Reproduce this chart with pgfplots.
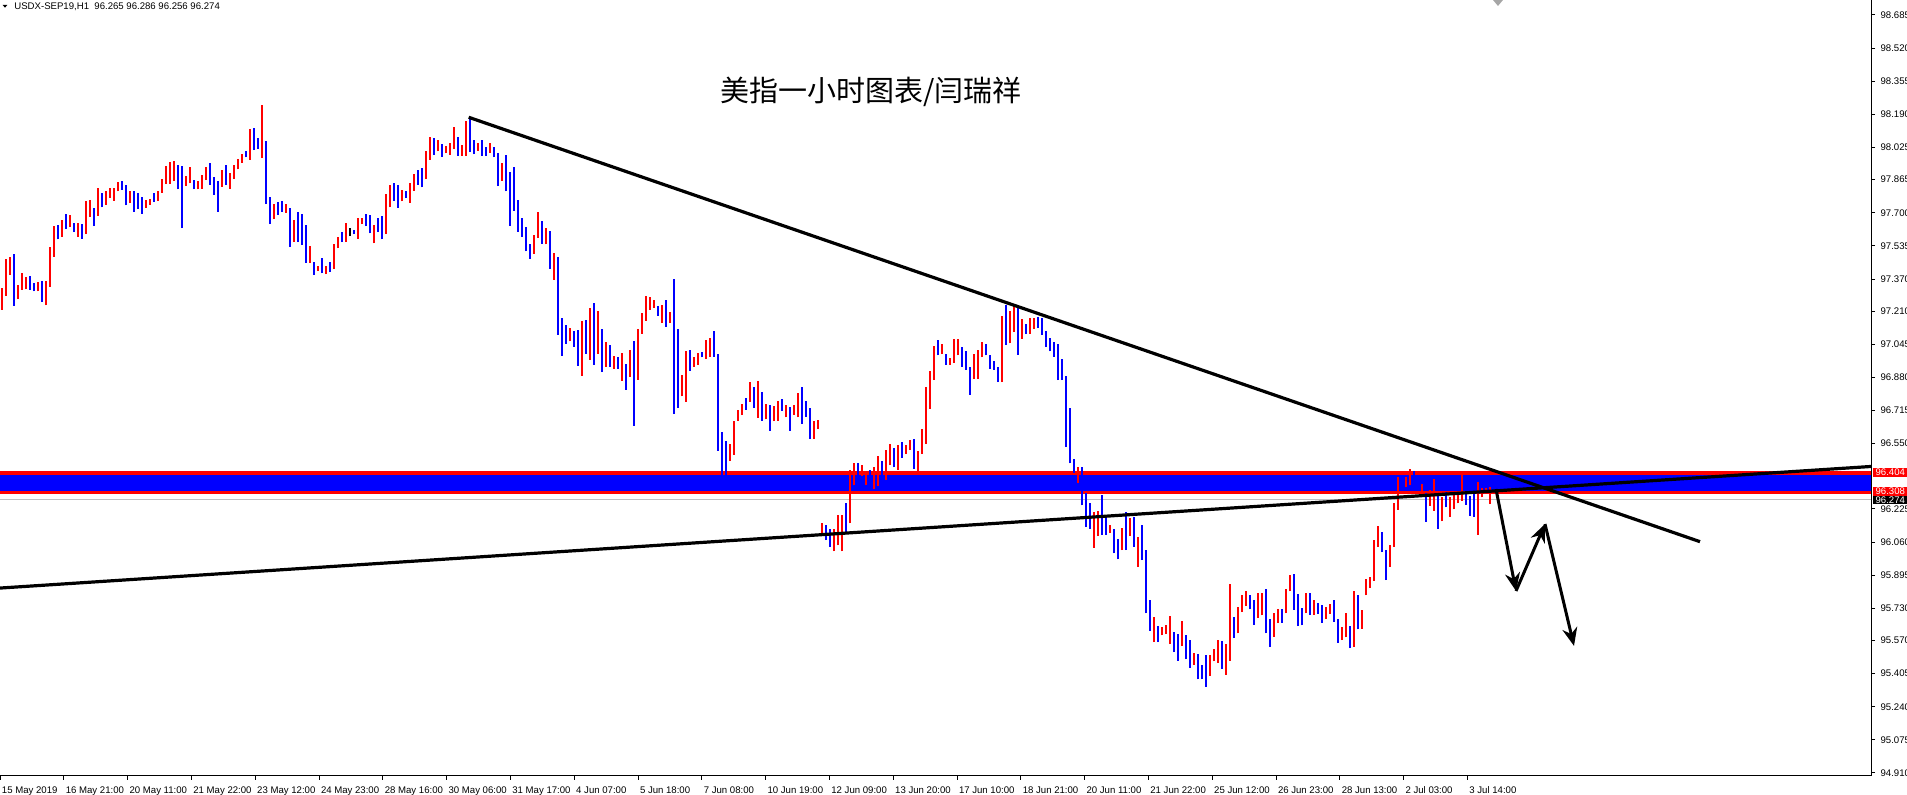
\documentclass[border=0pt]{standalone}
\usepackage{pgfplots}
\usepackage{pgfplotstable}
\pgfplotsset{compat=1.18}
\usetikzlibrary{arrows.meta}
\usepackage{fontspec}
\setmainfont{Liberation Sans}
\newfontfamily\cjk{Noto Sans CJK SC}
\definecolor{mtgray}{RGB}{192,192,192}
\newcommand\mtfont{\fontsize{4.8}{5.2}\selectfont}

% one high-low bar per row, coloured by column c (1 up, 2 down, 3 doji)
\pgfplotsset{
  hl bar/.style 2 args={#1, line width=1pt, mark=none, forget plot, -,
    restrict expr to domain={\thisrow{c}}{#2:#2},
    quiver={u=0, v=\thisrow{hi}-\thisrow{lo}}},
}

\begin{document}
% hourly USDX bars, two hours merged per bar: x (px), low, high, colour code
\pgfplotstableread[row sep=\\]{
x lo hi c\\
2 97.216 97.325 1\\ 6 97.286 97.472 1\\ 10 97.390 97.482 1\\ 14 97.236 97.495 2\\ 18 97.272 97.342 1\\ 22 97.316 97.402 1\\ 26 97.319 97.382 1\\ 30 97.316 97.385 2\\
34 97.309 97.352 2\\ 38 97.309 97.355 1\\ 42 97.256 97.359 2\\ 46 97.239 97.362 1\\ 50 97.332 97.531 1\\ 54 97.482 97.634 1\\ 58 97.568 97.641 2\\ 62 97.581 97.664 1\\
66 97.621 97.694 2\\ 70 97.628 97.687 1\\ 74 97.604 97.651 2\\ 78 97.581 97.651 1\\ 82 97.571 97.644 2\\ 86 97.594 97.760 1\\ 90 97.681 97.764 1\\ 94 97.634 97.724 2\\
98 97.684 97.823 1\\ 102 97.727 97.800 2\\ 106 97.740 97.810 1\\ 110 97.774 97.823 1\\ 114 97.760 97.823 1\\ 118 97.807 97.853 1\\ 122 97.814 97.860 2\\ 126 97.737 97.837 2\\
130 97.750 97.810 1\\ 134 97.704 97.810 2\\ 138 97.721 97.800 2\\ 142 97.694 97.780 2\\ 146 97.724 97.764 1\\ 150 97.740 97.770 1\\ 154 97.754 97.800 2\\ 158 97.760 97.810 1\\
162 97.800 97.870 1\\ 166 97.843 97.933 1\\ 170 97.843 97.953 1\\ 174 97.857 97.960 1\\ 178 97.817 97.940 2\\ 182 97.624 97.933 2\\ 186 97.833 97.883 1\\ 190 97.847 97.930 1\\
194 97.817 97.863 2\\ 198 97.817 97.860 1\\ 202 97.820 97.890 1\\ 206 97.863 97.930 1\\ 210 97.840 97.950 2\\ 214 97.790 97.877 2\\ 218 97.704 97.860 2\\ 222 97.830 97.913 1\\
226 97.840 97.936 2\\ 230 97.820 97.897 1\\ 234 97.870 97.940 1\\ 238 97.916 97.966 1\\ 242 97.950 97.993 1\\ 246 97.976 98.009 2\\ 250 97.963 98.116 1\\ 254 98.012 98.122 2\\
258 98.019 98.072 2\\ 262 97.973 98.238 1\\ 266 97.743 98.059 2\\ 270 97.644 97.780 2\\ 274 97.670 97.743 1\\ 278 97.690 97.753 2\\ 282 97.704 97.760 2\\ 286 97.700 97.743 1\\
290 97.531 97.724 2\\ 294 97.554 97.664 1\\ 298 97.554 97.704 2\\ 302 97.541 97.694 2\\ 306 97.451 97.641 2\\ 310 97.451 97.534 1\\ 314 97.392 97.455 2\\ 318 97.411 97.435 1\\
322 97.398 97.475 2\\ 326 97.395 97.435 1\\ 330 97.405 97.455 2\\ 334 97.421 97.544 1\\ 338 97.524 97.581 1\\ 342 97.554 97.604 2\\ 346 97.554 97.647 1\\ 350 97.584 97.624 3\\
354 97.594 97.614 2\\ 358 97.571 97.674 1\\ 362 97.644 97.674 1\\ 366 97.634 97.694 2\\ 370 97.597 97.687 2\\ 374 97.548 97.641 1\\ 378 97.604 97.674 2\\ 382 97.568 97.684 2\\
386 97.594 97.793 1\\ 390 97.727 97.840 1\\ 394 97.760 97.846 2\\ 398 97.724 97.840 2\\ 402 97.757 97.813 1\\ 406 97.773 97.807 2\\ 410 97.750 97.846 1\\ 414 97.810 97.893 1\\
418 97.840 97.913 2\\ 422 97.826 97.923 2\\ 426 97.870 98.006 1\\ 430 97.963 98.079 1\\ 434 97.989 98.072 2\\ 438 98.006 98.062 1\\ 442 97.979 98.042 2\\ 446 97.996 98.032 1\\
450 97.989 98.049 1\\ 454 98.019 98.129 1\\ 458 97.983 98.079 2\\ 462 97.983 98.039 1\\ 466 97.983 98.155 1\\ 470 98.002 98.175 2\\ 474 97.992 98.062 2\\ 478 98.009 98.046 1\\
482 97.983 98.062 2\\ 486 97.983 98.029 2\\ 490 97.999 98.049 1\\ 494 97.976 98.026 2\\ 498 97.833 97.999 2\\ 502 97.860 97.949 1\\ 506 97.807 97.986 2\\ 510 97.635 97.903 2\\
514 97.711 97.930 2\\ 518 97.605 97.764 2\\ 522 97.581 97.674 2\\ 526 97.508 97.631 2\\ 530 97.472 97.542 2\\ 534 97.495 97.588 1\\ 538 97.575 97.704 1\\ 542 97.545 97.658 2\\
546 97.542 97.625 1\\ 550 97.422 97.611 2\\ 554 97.366 97.502 1\\ 558 97.093 97.482 2\\ 562 96.987 97.176 2\\ 566 97.047 97.143 2\\ 570 97.060 97.127 1\\ 574 97.034 97.113 2\\
578 96.937 97.117 2\\ 582 96.888 97.160 1\\ 586 96.997 97.166 2\\ 590 96.967 97.226 1\\ 594 96.944 97.249 2\\ 598 96.997 97.213 1\\ 602 96.907 97.120 2\\ 606 96.934 97.057 1\\
610 96.931 97.040 2\\ 614 96.924 96.987 1\\ 618 96.924 96.980 2\\ 622 96.864 97.004 1\\ 626 96.818 96.947 2\\ 630 96.884 97.017 1\\ 634 96.639 97.060 2\\ 638 96.868 97.120 1\\
642 97.097 97.203 1\\ 646 97.163 97.286 1\\ 650 97.216 97.279 1\\ 654 97.226 97.266 1\\ 658 97.186 97.236 2\\ 662 97.150 97.243 1\\ 666 97.133 97.266 2\\ 670 97.150 97.206 1\\
674 96.698 97.372 2\\ 678 96.728 97.123 2\\ 682 96.785 96.891 1\\ 686 96.758 97.014 1\\ 690 96.914 97.017 2\\ 694 96.934 96.984 1\\ 698 96.944 97.004 1\\ 702 96.980 97.007 2\\
706 96.974 97.067 1\\ 710 96.984 97.077 1\\ 714 96.984 97.113 2\\ 718 96.516 96.997 2\\ 722 96.380 96.609 2\\ 726 96.395 96.562 2\\ 730 96.463 96.549 1\\ 734 96.496 96.665 1\\
738 96.665 96.718 1\\ 742 96.692 96.748 1\\ 746 96.718 96.778 2\\ 750 96.758 96.858 1\\ 754 96.728 96.830 2\\ 758 96.678 96.864 1\\ 762 96.664 96.807 2\\ 766 96.671 96.747 1\\
770 96.615 96.744 2\\ 774 96.661 96.738 1\\ 778 96.664 96.764 1\\ 782 96.714 96.774 2\\ 786 96.681 96.741 1\\ 790 96.615 96.734 2\\ 794 96.694 96.741 1\\ 798 96.681 96.804 1\\
802 96.648 96.830 2\\ 806 96.684 96.764 2\\ 810 96.575 96.728 2\\ 814 96.575 96.664 1\\ 818 96.625 96.668 1\\ 822 96.093 96.157 1\\ 826 96.070 96.147 2\\ 830 96.037 96.127 2\\
834 96.014 96.123 1\\ 838 96.044 96.193 1\\ 842 96.014 96.193 1\\ 846 96.103 96.256 2\\ 850 96.153 96.419 1\\ 854 96.342 96.455 1\\ 858 96.376 96.455 2\\ 862 96.389 96.442 1\\
866 96.346 96.412 1\\ 870 96.386 96.419 2\\ 874 96.326 96.435 1\\ 878 96.339 96.489 1\\ 882 96.396 96.462 2\\ 886 96.369 96.518 1\\ 890 96.442 96.548 1\\ 894 96.432 96.528 2\\
898 96.419 96.542 1\\ 902 96.479 96.558 2\\ 906 96.498 96.545 1\\ 910 96.518 96.568 1\\ 914 96.425 96.572 2\\ 918 96.402 96.512 1\\ 922 96.498 96.621 1\\ 926 96.548 96.834 1\\
930 96.724 96.913 1\\ 934 96.867 97.036 1\\ 938 96.990 97.066 2\\ 942 96.996 97.046 1\\ 946 96.943 96.996 2\\ 950 96.943 96.977 1\\ 954 96.953 97.070 1\\ 958 96.990 97.073 1\\
962 96.933 97.033 2\\ 966 96.917 97.013 2\\ 970 96.794 96.933 2\\ 974 96.874 96.996 1\\ 978 96.874 97.016 1\\ 982 96.980 97.056 1\\ 986 96.990 97.046 2\\ 990 96.923 96.993 2\\
994 96.917 96.963 2\\ 998 96.857 96.933 2\\ 1002 96.857 97.186 1\\ 1006 97.043 97.239 2\\ 1010 97.049 97.212 1\\ 1014 97.106 97.242 1\\ 1018 96.993 97.232 2\\ 1022 97.073 97.172 1\\
1026 97.096 97.146 2\\ 1030 97.096 97.176 1\\ 1034 97.122 97.176 1\\ 1038 97.126 97.182 2\\ 1042 97.093 97.176 2\\ 1046 97.033 97.112 2\\ 1050 97.010 97.076 2\\ 1054 96.983 97.056 2\\
1058 96.867 97.046 2\\ 1062 96.867 96.973 2\\ 1066 96.535 96.887 2\\ 1070 96.452 96.727 2\\ 1074 96.402 96.475 2\\ 1078 96.356 96.435 1\\ 1082 96.243 96.435 2\\ 1086 96.136 96.302 2\\
1090 96.126 96.253 2\\ 1094 96.033 96.209 1\\ 1098 96.090 96.216 1\\ 1102 96.097 96.296 2\\ 1106 96.097 96.186 2\\ 1110 96.107 96.143 1\\ 1114 96.004 96.126 2\\ 1118 95.974 96.073 2\\
1122 96.020 96.130 1\\ 1126 96.020 96.209 2\\ 1130 96.090 96.180 1\\ 1134 96.037 96.186 2\\ 1138 95.937 96.087 1\\ 1142 95.970 96.143 2\\ 1146 95.705 96.020 2\\ 1150 95.618 95.771 2\\
1154 95.562 95.685 1\\ 1158 95.562 95.642 2\\ 1162 95.595 95.638 1\\ 1166 95.602 95.648 1\\ 1170 95.552 95.692 1\\ 1174 95.512 95.612 2\\ 1178 95.469 95.602 2\\ 1182 95.542 95.668 1\\
1186 95.476 95.595 2\\ 1190 95.433 95.572 2\\ 1194 95.449 95.509 1\\ 1198 95.376 95.502 2\\ 1202 95.376 95.446 2\\ 1206 95.340 95.499 2\\ 1210 95.393 95.499 1\\ 1214 95.466 95.526 1\\
1218 95.459 95.572 1\\ 1222 95.429 95.569 2\\ 1226 95.399 95.552 1\\ 1230 95.469 95.851 1\\ 1234 95.582 95.685 2\\ 1238 95.605 95.735 1\\ 1242 95.711 95.798 1\\ 1246 95.741 95.814 1\\
1250 95.725 95.794 2\\ 1254 95.649 95.771 2\\ 1258 95.682 95.805 1\\ 1262 95.695 95.808 1\\ 1266 95.605 95.825 2\\ 1270 95.539 95.678 2\\ 1274 95.589 95.708 1\\ 1278 95.659 95.725 1\\
1282 95.659 95.728 2\\ 1286 95.705 95.825 1\\ 1290 95.815 95.898 1\\ 1294 95.722 95.901 2\\ 1298 95.642 95.801 2\\ 1302 95.645 95.732 2\\ 1306 95.705 95.808 1\\ 1310 95.698 95.808 2\\
1314 95.698 95.771 1\\ 1318 95.702 95.755 2\\ 1322 95.659 95.748 2\\ 1326 95.678 95.735 1\\ 1330 95.702 95.751 1\\ 1334 95.662 95.771 2\\ 1338 95.559 95.675 2\\ 1342 95.572 95.639 1\\
1346 95.585 95.708 1\\ 1350 95.532 95.642 2\\ 1354 95.539 95.818 1\\ 1358 95.625 95.795 2\\ 1362 95.629 95.722 1\\ 1366 95.795 95.874 1\\ 1370 95.831 95.884 1\\ 1374 95.868 96.070 1\\
1378 96.037 96.140 1\\ 1382 96.010 96.110 2\\ 1386 95.871 96.020 2\\ 1390 95.937 96.044 1\\ 1394 96.037 96.256 1\\ 1398 96.220 96.386 1\\ 1402 96.332 96.392 2\\ 1406 96.336 96.386 1\\
1410 96.346 96.425 1\\ 1414 96.362 96.415 2\\ 1418 96.319 96.386 2\\ 1422 96.286 96.349 1\\ 1426 96.160 96.303 2\\ 1430 96.240 96.319 1\\ 1434 96.216 96.376 1\\ 1438 96.127 96.303 2\\
1442 96.163 96.286 1\\ 1446 96.233 96.309 2\\ 1450 96.186 96.286 1\\ 1454 96.223 96.293 1\\ 1458 96.253 96.303 1\\ 1462 96.266 96.415 1\\ 1466 96.246 96.313 2\\ 1470 96.190 96.289 2\\
1474 96.186 96.332 2\\ 1478 96.097 96.359 1\\ 1482 96.283 96.329 1\\ 1486 96.303 96.329 1\\ 1490 96.249 96.332 1\\
}\bars

\begin{tikzpicture}
\begin{axis}[
  scale only axis, width=935.5pt, height=388pt,
  xmin=0, xmax=1871, ymin=94.8951, ymax=98.7597,
  axis x line=bottom, axis y line=right,
  axis line style={-, line width=0.5pt},
  clip=false,
  tick align=outside, major tick length=2pt,
  tick style={black, line width=0.5pt},
  xtick={0,63.8,127.6,191.4,255.2,319,382.8,446.6,510.4,574.2,638,701.8,765.6,829.4,893.2,957,1020.8,1084.6,1148.4,1212.2,1276,1339.8,1403.6,1467.4},
  xticklabels={15 May 2019,16 May 21:00,20 May 11:00,21 May 22:00,23 May 12:00,24 May 23:00,28 May 16:00,30 May 06:00,31 May 17:00,4 Jun 07:00,5 Jun 18:00,7 Jun 08:00,10 Jun 19:00,12 Jun 09:00,13 Jun 20:00,17 Jun 10:00,18 Jun 21:00,20 Jun 11:00,21 Jun 22:00,25 Jun 12:00,26 Jun 23:00,28 Jun 13:00,2 Jul 03:00,3 Jul 14:00},
  ytick={98.685,98.520,98.355,98.190,98.025,97.865,97.700,97.535,97.370,97.210,97.045,96.880,96.715,96.550,96.225,96.060,95.895,95.730,95.570,95.405,95.240,95.075,94.910},
  yticklabels={98.685,98.520,98.355,98.190,98.025,97.865,97.700,97.535,97.370,97.210,97.045,96.880,96.715,96.550,96.225,96.060,95.895,95.730,95.570,95.405,95.240,95.075,94.910},
  every tick label/.append style={font=\mtfont},
  xticklabel style={anchor=base west, inner sep=0pt, xshift=0.8pt, yshift=-6.6pt},
  yticklabel style={anchor=west, inner sep=0pt, xshift=2.6pt},
]
% resistance zone
\addplot[draw=none, fill=blue, forget plot] coordinates {(0,96.308) (1871,96.308) (1871,96.404) (0,96.404)} -- cycle;
\addplot[red, line width=1.65pt, forget plot] coordinates {(0,96.404) (1871,96.404)};
\addplot[red, line width=1.65pt, forget plot] coordinates {(0,96.308) (1871,96.308)};
\addplot[mtgray, line width=0.5pt, forget plot] coordinates {(0,96.274) (1871,96.274)};

% high-low bars, drawn as vertical segments from low to high
\addplot[hl bar={red}{1}] table[x=x, y=lo] {\bars};
\addplot[hl bar={blue}{2}] table[x=x, y=lo] {\bars};
\addplot[hl bar={black}{3}] table[x=x, y=lo] {\bars};

% trend lines
\addplot[black, line width=1.6pt, forget plot] coordinates {(468.7,98.1755) (1700,96.062)};
\addplot[black, line width=1.6pt, forget plot] coordinates {(0,95.831) (1871,96.4365)};

% projected path
\addplot[black, line width=1.5pt, -{Stealth[length=9pt,width=7.5pt]}, forget plot] coordinates {(1496,96.324) (1516,95.8165)};
\addplot[black, line width=1.5pt, -{Stealth[length=9pt,width=7.5pt]}, forget plot] coordinates {(1516,95.8165) (1545,96.150)};
\addplot[black, line width=1.5pt, -{Stealth[length=9pt,width=7.5pt]}, forget plot] coordinates {(1545,96.150) (1574,95.543)};

% header, title, shift marker
\fill[black] (axis cs:2.7,98.7348) -- (axis cs:7.3,98.7348) -- (axis cs:5,98.7214) -- cycle;
\node[anchor=base west, inner sep=0pt, font=\mtfont] at (axis cs:14,98.710) {USDX-SEP19,H1\ \ 96.265 96.286 96.256 96.274};
\node[font=\cjk\fontsize{14.5}{16}\selectfont, inner sep=0pt] at (axis cs:871,98.304) {美指一小时图表/闫瑞祥};
\fill[gray!70] (axis cs:1493,98.7597) -- (axis cs:1503,98.7597) -- (axis cs:1498,98.7298) -- cycle;

% price badges on the scale
\node[fill=red, text=white, anchor=west, inner sep=0pt, minimum height=4.8pt, minimum width=17.2pt, font=\mtfont] at (axis cs:1872.7,96.4066) {96.404};
\node[fill=red, text=white, anchor=west, inner sep=0pt, minimum height=4.6pt, minimum width=17.2pt, font=\mtfont] at (axis cs:1872.7,96.311) {96.308};
\node[fill=black, text=white, anchor=west, inner sep=0pt, minimum height=4pt, minimum width=17.2pt, font=\mtfont] at (axis cs:1872.7,96.270) {96.274};
\end{axis}
\pgfresetboundingbox
\path (0,-9.5pt) rectangle (953.5pt,388pt);
\end{tikzpicture}
\end{document}
